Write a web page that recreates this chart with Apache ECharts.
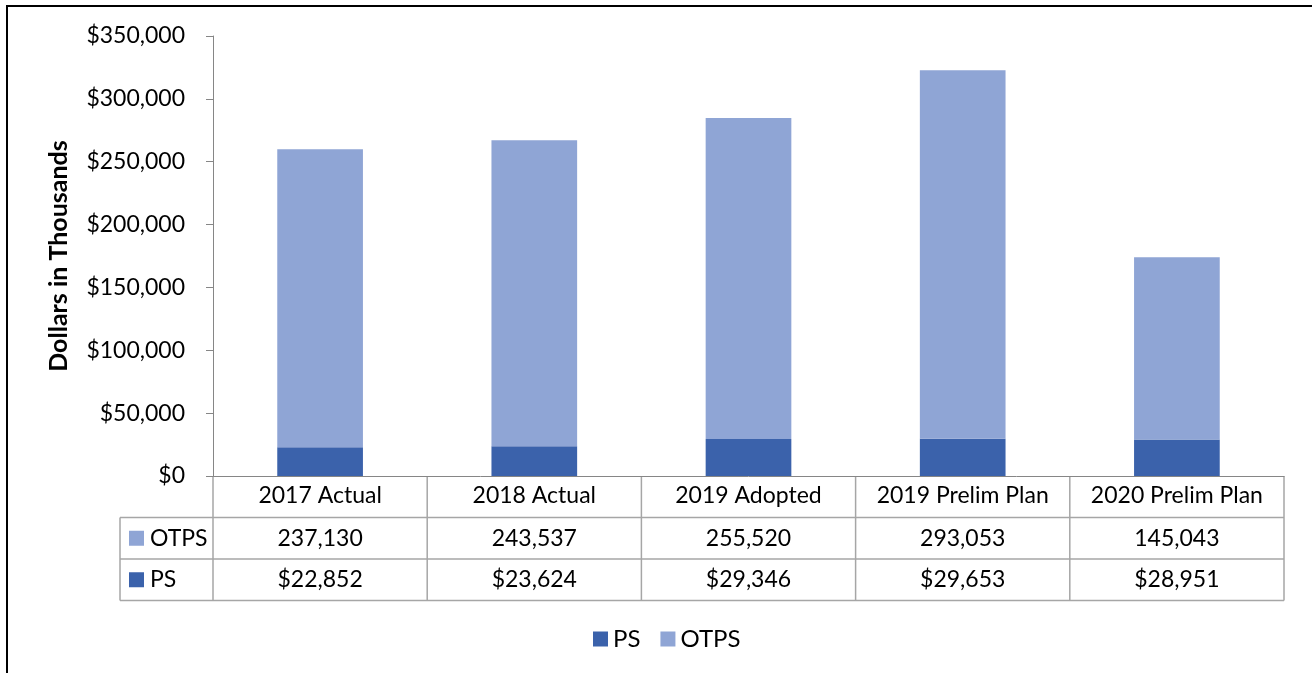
<!DOCTYPE html>
<html><head><meta charset="utf-8">
<script src="https://cdn.jsdelivr.net/npm/echarts@6/dist/echarts.min.js"></script>
<style>html,body{margin:0;padding:0;background:#fff}#c{width:1312px;height:673px}</style>
</head><body><div id="c"></div>
<script>
const categories = ['2017 Actual', '2018 Actual', '2019 Adopted', '2019 Prelim Plan', '2020 Prelim Plan'];
const psValues = [22852, 23624, 29346, 29653, 28951];
const otpsValues = [237130, 243537, 255520, 293053, 145043];
const yMin = 0, yMax = 350000, yInterval = 50000;
const seriesNames = ['PS', 'OTPS'];
const yAxisTitle = 'Dollars in Thousands';

const FONT = 'Lato, "Liberation Sans", sans-serif';
const C_PS = '#3B62AB', C_OTPS = '#8FA5D5';
const GRID = '#A6A6A6', AXIS = '#868686';
const fmt = v => v.toLocaleString('en-US');

const chart = echarts.init(document.getElementById('c'), null, {renderer: 'canvas'});
const option = {
  animation: false,
  backgroundColor: '#fff',
  textStyle: {fontFamily: FONT, color: '#000'},
  grid: {left: 213, right: 28, top: 36, bottom: 197, containLabel: false},
  legend: {
    data: seriesNames, left: 588, top: 622, icon: 'rect', itemWidth: 15, itemHeight: 15, itemGap: 20,
    textStyle: {fontFamily: FONT, fontSize: 24, color: '#000'}
  },
  xAxis: {
    type: 'category', data: categories,
    axisLine: {show: true, lineStyle: {color: AXIS, width: 1}},
    axisTick: {show: false},
    axisLabel: {interval: 0, margin: 8, fontFamily: FONT, fontSize: 23, color: '#000'}
  },
  yAxis: {
    type: 'value', min: yMin, max: yMax, interval: yInterval,
    name: yAxisTitle, nameLocation: 'middle', nameRotate: 90, nameGap: 142,
    nameTextStyle: {fontFamily: FONT, fontSize: 25, fontWeight: 'bold', color: '#000'},
    axisLine: {show: true, lineStyle: {color: AXIS}},
    axisTick: {show: true, length: 7, lineStyle: {color: AXIS}},
    splitLine: {show: false},
    axisLabel: {margin: 28, fontFamily: FONT, fontSize: 23, color: '#000', formatter: v => '$' + fmt(v)}
  },
  series: [
    {name: 'PS', type: 'bar', stack: 'total', barWidth: '40%', data: psValues, itemStyle: {color: C_PS}},
    {name: 'OTPS', type: 'bar', stack: 'total', barWidth: '40%', data: otpsValues, itemStyle: {color: C_OTPS}}
  ]
};
chart.setOption(option);

// data table below the axis
const c0 = chart.convertToPixel({xAxisIndex: 0}, categories[0]);
const c1 = chart.convertToPixel({xAxisIndex: 0}, categories[1]);
const band = c1 - c0;
const yBase = chart.convertToPixel({yAxisIndex: 0}, 0);
const rowH = 41.5;
const tableLeft = 120;
const plotLeft = c0 - band / 2;
const plotRight = plotLeft + band * categories.length;
const g = [];
const line = (x1, y1, x2, y2, color, w) => g.push({type: 'line', shape: {x1, y1, x2, y2}, style: {stroke: color || GRID, lineWidth: w || 1.5}, silent: true});
line(tableLeft, yBase + rowH, plotRight, yBase + rowH);
line(tableLeft, yBase + 2 * rowH, plotRight, yBase + 2 * rowH);
line(tableLeft, yBase + 3 * rowH, plotRight, yBase + 3 * rowH);
for (let i = 0; i <= categories.length; i++) {
  const x = plotLeft + i * band;
  line(x, yBase, x, yBase + 3 * rowH);
}
line(tableLeft, yBase + rowH, tableLeft, yBase + 3 * rowH);
const rows = [
  {name: 'OTPS', color: C_OTPS, vals: otpsValues.map(v => fmt(v))},
  {name: 'PS', color: C_PS, vals: psValues.map(v => '$' + fmt(v))}
];
rows.forEach((r, ri) => {
  const cy = yBase + rowH * (ri + 1.5);
  g.push({type: 'rect', shape: {x: tableLeft + 9, y: cy - 7.5, width: 15, height: 15}, style: {fill: r.color}, silent: true});
  g.push({type: 'text', x: tableLeft + 30, y: cy, style: {text: r.name, font: '23px ' + FONT, fill: '#000', textVerticalAlign: 'middle', verticalAlign: 'middle'}, silent: true});
  r.vals.forEach((t, i) => {
    const cx = chart.convertToPixel({xAxisIndex: 0}, categories[i]);
    g.push({type: 'text', x: cx, y: cy, style: {text: t, font: '23px ' + FONT, fill: '#000', align: 'center', textAlign: 'center', verticalAlign: 'middle', textVerticalAlign: 'middle'}, silent: true});
  });
});
line(6, 6, 1312, 6, '#000', 2);
line(7, 5, 7, 673, '#000', 2);
chart.setOption({graphic: {elements: g}});
</script>
</body></html>
